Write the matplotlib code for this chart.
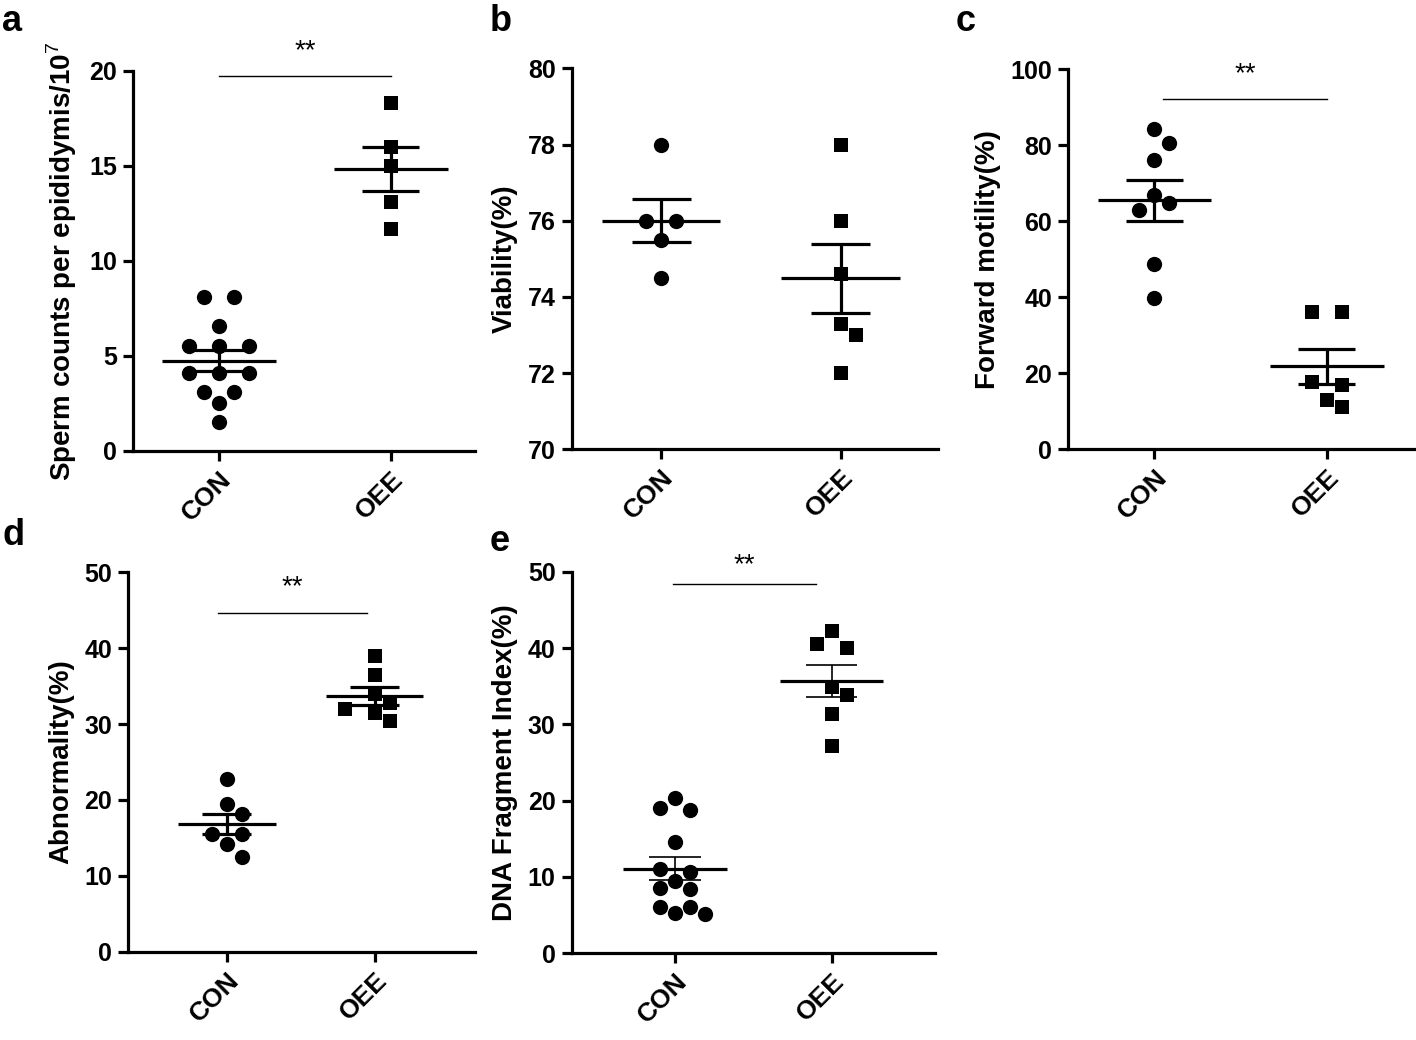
import numpy as np
import matplotlib
matplotlib.use("Agg")
import matplotlib.pyplot as plt

plt.rcParams["font.family"] = ["Liberation Sans", "DejaVu Sans"]
plt.rcParams["mathtext.fontset"] = "custom"
plt.rcParams["mathtext.rm"] = "Liberation Sans"
plt.rcParams["mathtext.bf"] = "Liberation Sans:bold"

groups = ["CON", "OEE"]

# values
con_a = [8.1, 8.1, 6.6, 5.5, 5.5, 5.5, 4.1, 4.1, 4.1, 3.1, 3.1, 2.5, 1.5]
oee_a = [18.3, 16.0, 15.0, 13.1, 11.7]
con_b = [78.0, 76.0, 76.0, 75.5, 74.5]
oee_b = [78.0, 76.0, 74.6, 73.3, 73.0, 72.0]
con_c = [84.3, 80.5, 76.1, 66.9, 64.9, 63.0, 48.7, 39.8]
oee_c = [36.0, 36.0, 17.8, 16.9, 13.0, 11.2]
con_d = [22.8, 19.4, 18.2, 15.5, 15.5, 14.2, 12.5]
oee_d = [39.0, 36.5, 34.0, 32.8, 32.0, 31.4, 30.4]
con_e = [20.4, 19.1, 18.8, 14.6, 11.1, 10.7, 9.5, 8.5, 8.4, 6.1, 6.1, 5.3, 5.2]
oee_e = [42.2, 40.5, 40.0, 34.9, 33.8, 31.4, 27.1]

ylabels = [r"Sperm counts per epididymis/10$^{7}$", "Viability(%)", "Forward motility(%)",
           "Abnormality(%)", "DNA Fragment Index(%)"]
letters = ["a", "b", "c", "d", "e"]
ylims = [(0, 20), (70, 80), (0, 100), (0, 50), (0, 50)]
ysteps = [5, 2, 20, 10, 10]
# significance bars: (x start, x end, y line, y text) or None
sig = [(0.0, 1.0, 19.7, 21.0), None, (0.05, 1.0, 92.1, 98.8),
       (-0.06, 0.95, 44.7, 48.0), (-0.01, 0.9, 48.4, 50.8)]

W, H = 1416, 1040
fig = plt.figure(figsize=(W / 100, H / 100), dpi=100)

# pixel boxes (left, right, top, bottom) and x limits
boxes = [(133, 475, 70.7, 451), (571.7, 938, 68.3, 449.3), (1068.3, 1414, 69.3, 449.3),
         (128.3, 475, 572.3, 951.7), (571.7, 935, 571.7, 953.3)]
xlims = [(-0.5, 1.49), (-0.5, 1.544), (-0.5, 1.506), (-0.667, 1.68), (-0.66, 1.66)]
letter_pos = [(2, 4), (490, 4), (956, 4), (2, 518), (490, 524)]
thin_sem = [False, False, False, False, True]

D_PX = 15.0


def swarm(ax, x0, vals):
    vals = np.asarray(vals, float)
    pts = ax.transData.transform(np.c_[np.full(len(vals), x0), vals])
    ypx = pts[:, 1]
    pxu = ax.transData.transform([[1, 0]])[0, 0] - ax.transData.transform([[0, 0]])[0, 0]
    order = np.argsort(-ypx, kind="stable")
    rows = []
    for i in order:
        if rows and abs(ypx[rows[-1][0]] - ypx[i]) < 0.4 * D_PX:
            rows[-1].append(i)
        else:
            rows.append([i])
    placed = []
    off = np.zeros(len(vals))
    cands = []
    for sp in [2.0, 3.0]:
        for sh in [0, 1, -1, 2, -2, 3, -3]:
            cands.append((sp, sh))
    for row in rows:
        n = len(row)
        for sp, sh in cands:
            xs = (np.arange(n) - (n - 1) / 2) * sp * D_PX + sh * D_PX
            ok = True
            for k, i in enumerate(row):
                for (px, py) in placed:
                    if np.hypot(xs[k] - px, ypx[i] - py) < 1.02 * D_PX:
                        ok = False
                        break
                if not ok:
                    break
            if ok:
                break
        for k, i in enumerate(row):
            placed.append((xs[k], ypx[i]))
            off[i] = xs[k] / pxu
    return x0 + off


data = [(con_a, oee_a), (con_b, oee_b), (con_c, oee_c), (con_d, oee_d), (con_e, oee_e)]

for p in range(5):
    l, r, t, b = boxes[p]
    ax = fig.add_axes([l / W, 1 - b / H, (r - l) / W, (b - t) / H])
    ax.set_xlim(*xlims[p])
    ax.set_ylim(*ylims[p])
    for s in ["top", "right"]:
        ax.spines[s].set_visible(False)
    for s in ["left", "bottom"]:
        ax.spines[s].set_linewidth(2.3)
        ax.spines[s].set_capstyle("projecting")
    ax.set_yticks(np.arange(ylims[p][0], ylims[p][1] + 0.1, ysteps[p]))
    ax.set_xticks([0, 1])
    ax.set_xticklabels(groups, rotation=45, ha="right", rotation_mode="anchor")
    ax.tick_params(width=2.3, length=7.5, labelsize=18, pad=4)
    ax.tick_params(axis="x", labelsize=19)
    for lab in ax.get_xticklabels() + ax.get_yticklabels():
        lab.set_fontweight("bold")
    ax.set_ylabel(ylabels[p], fontsize=20, fontweight="bold", labelpad=7)

    for g, (vals, mk, ms) in enumerate(zip(data[p], ["o", "s"], [11, 10.2])):
        xs = swarm(ax, g, vals)
        ax.plot(xs, vals, ls="none", marker=mk, ms=ms, color="black", mew=0, clip_on=False, zorder=3)
        m = np.mean(vals)
        sem = np.std(vals, ddof=1) / np.sqrt(len(vals))
        ax.plot([g - 0.33, g + 0.33], [m, m], color="black", lw=2.3, solid_capstyle="butt", zorder=4)
        lw = 1.2 if thin_sem[p] else 2.3
        ax.plot([g, g], [m - sem, m + sem], color="black", lw=lw, solid_capstyle="butt", zorder=4)
        for yy in [m - sem, m + sem]:
            ax.plot([g - 0.165, g + 0.165], [yy, yy], color="black", lw=lw,
                    solid_capstyle="butt", zorder=4)

    if sig[p] is not None:
        x1, x2, yl, yt = sig[p]
        ax.plot([x1, x2], [yl, yl], color="black", lw=1.0, clip_on=False)
        ax.text((x1 + x2) / 2, yt, "**", ha="center", va="center", fontsize=20, clip_on=False)

    fig.text(letter_pos[p][0] / W, 1 - letter_pos[p][1] / H, letters[p], fontsize=26,
             fontweight="bold", ha="left", va="top")

fig.savefig("out.png", dpi=100)
